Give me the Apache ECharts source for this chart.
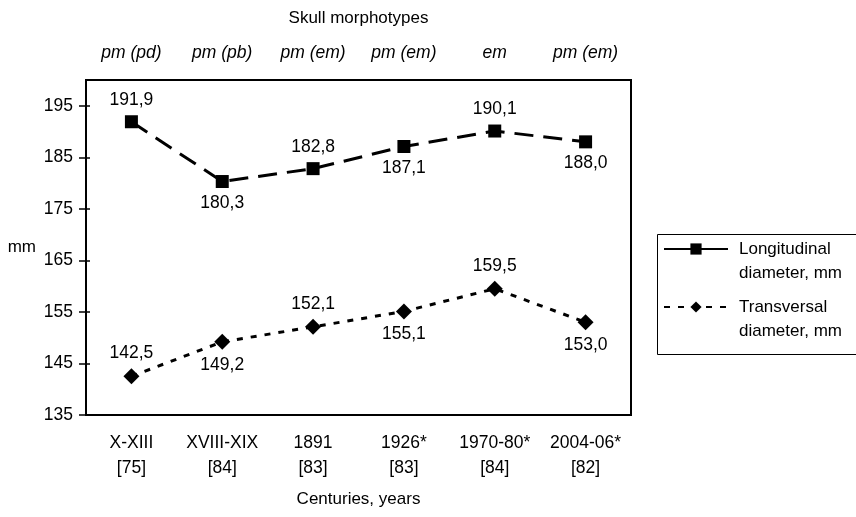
<!DOCTYPE html>
<html>
<head>
<meta charset="utf-8">
<script src="https://cdn.jsdelivr.net/npm/echarts@6/dist/echarts.min.js"></script>
<style>
  html, body { margin: 0; padding: 0; background: #fff; }
  #chart { width: 856px; height: 517px; }
</style>
</head>
<body>
<div id="chart"></div>
<script>
// data
const centuries = ['X-XIII\n[75]', 'XVIII-XIX\n[84]', '1891\n[83]', '1926*\n[83]', '1970-80*\n[84]', '2004-06*\n[82]']
const morphotypes = ['pm (pd)', 'pm (pb)', 'pm (em)', 'pm (em)', 'em', 'pm (em)']
const longitudinal = [191.9, 180.3, 182.8, 187.1, 190.1, 188.0]
const transversal = [142.5, 149.2, 152.1, 155.1, 159.5, 153.0]

const font = 'Liberation Sans, Arial, sans-serif'
const chart = echarts.init(document.getElementById('chart'))

// 数值标签：逗号小数
const fmt = v => v.toFixed(1).replace('.', ',')
const withLabels = arr => arr.map((v, i) => ({
  value: v,
  label: { position: i % 2 ? 'bottom' : 'top' }
}))

const option = {
  animation: false,
  textStyle: { fontFamily: font, color: '#000' },
  grid: [
    { left: 86, right: 225, top: 80, bottom: 102, show: true, borderColor: '#000', borderWidth: 2 },
    { left: 86, right: 225, top: 80, bottom: 102 }
  ],
  xAxis: [
    {
      type: 'category',
      data: centuries,
      position: 'bottom',
      boundaryGap: true,
      axisLine: { lineStyle: { color: '#000', width: 2 } },
      axisTick: { length: 6, interval: 0, lineStyle: { color: '#000', width: 1.5 } },
      axisLabel: { interval: 0, color: '#000', fontSize: 17.5, fontFamily: font, lineHeight: 25, margin: 16 },
      name: 'Centuries, years',
      nameLocation: 'middle',
      nameGap: 76,
      nameTextStyle: { color: '#000', fontSize: 17, fontFamily: font }
    },
    {
      type: 'category',
      data: morphotypes,
      position: 'top',
      boundaryGap: true,
      axisLine: { lineStyle: { color: '#000', width: 2 } },
      axisTick: { length: 5, interval: 0, lineStyle: { color: '#000', width: 1.5 } },
      axisLabel: { interval: 0, color: '#000', fontSize: 17.5, fontFamily: font, fontStyle: 'italic', margin: 18 },
      name: 'Skull morphotypes',
      nameLocation: 'middle',
      nameGap: 53,
      nameTextStyle: { color: '#000', fontSize: 17, fontFamily: font }
    },
    // 刻度内侧部分
    {
      gridIndex: 1, type: 'category', data: centuries, position: 'bottom',
      axisLine: { show: false },
      axisTick: { inside: true, interval: 0, length: 6, lineStyle: { color: '#000', width: 1.5 } },
      axisLabel: { show: false }
    },
    {
      gridIndex: 1, type: 'category', data: morphotypes, position: 'top',
      axisLine: { show: false },
      axisTick: { inside: true, interval: 0, length: 5, lineStyle: { color: '#000', width: 1.5 } },
      axisLabel: { show: false }
    }
  ],
  yAxis: [
    {
      type: 'value',
      min: 135,
      max: 200,
      interval: 10,
      axisLine: { show: true, lineStyle: { color: '#000', width: 2 } },
      axisTick: { show: true, length: 7, lineStyle: { color: '#000', width: 1.5 } },
      axisLabel: {
        color: '#000', fontSize: 17.5, fontFamily: font, margin: 13, showMaxLabel: false,
        formatter: v => (v === 200 ? '' : v)
      },
      splitLine: { show: false },
      name: 'mm',
      nameLocation: 'middle',
      nameRotate: 0,
      nameGap: 50,
      nameTextStyle: { color: '#000', fontSize: 17, fontFamily: font }
    },
    {
      type: 'value',
      min: 135,
      max: 200,
      interval: 10,
      position: 'left',
      axisLine: { show: false },
      axisTick: { show: true, inside: true, length: 4, lineStyle: { color: '#000', width: 1.5 } },
      axisLabel: { show: false },
      splitLine: { show: false }
    },
    { gridIndex: 1, type: 'value', min: 135, max: 200, show: false }
  ],
  legend: {
    orient: 'vertical',
    left: 663,
    top: 213,
    padding: 0,
    itemGap: -14,
    itemWidth: 64,
    itemHeight: 14,
    formatter: name => '\n' + name,
    textStyle: { color: '#000', fontSize: 17, fontFamily: font, lineHeight: 24, padding: [0, 0, 0, 6] },
    data: [
      { name: 'Longitudinal\ndiameter, mm', lineStyle: { type: 'solid' } },
      { name: 'Transversal\ndiameter, mm' }
    ]
  },
  graphic: [
    { type: 'rect', left: 655, top: 232, shape: { width: 203, height: 120 }, style: { fill: 'none', stroke: '#000', lineWidth: 1 } }
  ],
  series: [
    {
      name: 'Longitudinal\ndiameter, mm',
      type: 'line',
      data: withLabels(longitudinal),
      symbol: 'rect',
      symbolSize: 13,
      itemStyle: { color: '#000' },
      lineStyle: { color: '#000', width: 3, type: [19, 10] },
      label: { show: true, formatter: p => fmt(p.value), fontSize: 17.5, fontFamily: font, color: '#000', distance: 6 }
    },
    {
      name: 'Transversal\ndiameter, mm',
      type: 'line',
      data: withLabels(transversal),
      symbol: 'diamond',
      symbolSize: 16,
      itemStyle: { color: '#000' },
      lineStyle: { color: '#000', width: 3, type: [6, 8] },
      label: { show: true, formatter: p => fmt(p.value), fontSize: 17.5, fontFamily: font, color: '#000', distance: 6 }
    }
  ]
}

chart.setOption(option)
</script>
</body>
</html>
